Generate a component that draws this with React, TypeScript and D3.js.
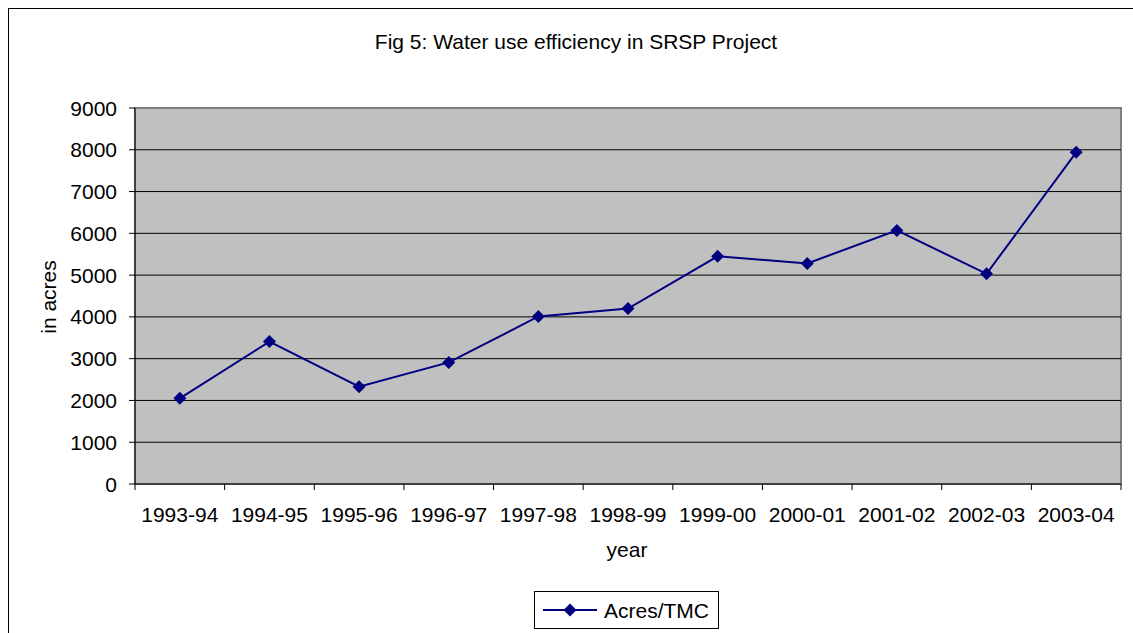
import React from "react";
import * as d3 from "d3";

const categories = ["1993-94","1994-95","1995-96","1996-97","1997-98","1998-99","1999-00","2000-01","2001-02","2002-03","2003-04"];
const values = [2050, 3410, 2330, 2910, 4010, 4200, 5450, 5280, 6070, 5030, 7940];
const yTicks = [0,1000,2000,3000,4000,5000,6000,7000,8000,9000];
const seriesName = "Acres/TMC";

export default function App() {
  const W = 1133, H = 633;
  const left = 135, right = 1121, top = 108, bottom = 484;
  const x = d3.scaleBand<string>().domain(categories).range([left, right]);
  const y = d3.scaleLinear().domain([0, 9000]).range([bottom, top]);
  const line = d3.line<number>().x((_, i) => x(categories[i])! + x.bandwidth() / 2).y(d => y(d));
  const font = "'Liberation Sans', Arial, sans-serif";
  const fs = 21;
  const navy = "#000080";
  const diamond = (cx: number, cy: number, r: number) => `M${cx},${cy - r}L${cx + r},${cy}L${cx},${cy + r}L${cx - r},${cy}Z`;
  const boundaries = categories.map((c) => x(c)!).concat([right]);
  return (
    <svg width={W} height={H} style={{ position: "absolute", left: 0, top: 0 }} fontFamily={font}>
      <rect x={0} y={0} width={W} height={H} fill="#fff" />
      <rect x={8.5} y={8.5} width={W + 10} height={H + 10} fill="none" stroke="#000" strokeWidth={1} />
      <text x={576} y={49} textAnchor="middle" fontSize={fs} fill="#000">Fig 5: Water use efficiency in SRSP Project</text>
      <rect x={left} y={top} width={right - left} height={bottom - top} fill="#c0c0c0" stroke="#808080" strokeWidth={2} />
      {yTicks.filter(t => t > 0 && t < 9000).map(t => (
        <line key={t} x1={left} x2={right} y1={y(t)} y2={y(t)} stroke="#000" strokeWidth={1} />
      ))}
      <line x1={left} x2={left} y1={top} y2={bottom} stroke="#000" strokeWidth={1} />
      <line x1={left} x2={right} y1={bottom} y2={bottom} stroke="#000" strokeWidth={1} />
      {yTicks.map(t => (
        <g key={t}>
          <line x1={left - 6} x2={left} y1={y(t)} y2={y(t)} stroke="#000" />
          <text x={left - 18} y={y(t)} dy="0.36em" textAnchor="end" fontSize={fs} fill="#000">{t}</text>
        </g>
      ))}
      {boundaries.map((bx, i) => (
        <line key={i} x1={bx} x2={bx} y1={bottom} y2={bottom + 6} stroke="#000" />
      ))}
      {categories.map(c => (
        <text key={c} x={x(c)! + x.bandwidth() / 2} y={bottom + 38} textAnchor="middle" fontSize={fs} fill="#000">{c}</text>
      ))}
      <text x={627} y={557} textAnchor="middle" fontSize={fs} fill="#000">year</text>
      <text transform={`translate(56,297) rotate(-90)`} textAnchor="middle" fontSize={fs} fill="#000">in acres</text>
      <path d={line(values) || ""} fill="none" stroke={navy} strokeWidth={2} />
      {values.map((v, i) => (
        <path key={i} d={diamond(x(categories[i])! + x.bandwidth() / 2, y(v), 6.5)} fill={navy} />
      ))}
      <rect x={534.5} y={591.5} width={184} height={37} fill="#fff" stroke="#000" strokeWidth={1} />
      <line x1={543} x2={597} y1={610} y2={610} stroke={navy} strokeWidth={2} />
      <path d={diamond(570, 610, 6.5)} fill={navy} />
      <text x={604} y={610} dy="0.36em" fontSize={fs} fill="#000">{seriesName}</text>
    </svg>
  );
}
